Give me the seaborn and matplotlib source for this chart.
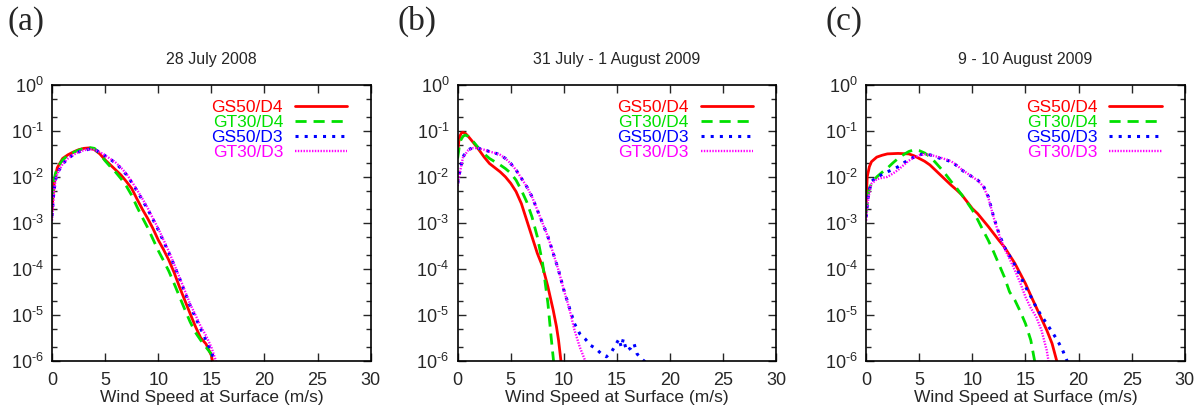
import numpy as np
import pandas as pd
import matplotlib
matplotlib.use("Agg")
import matplotlib.pyplot as plt
import matplotlib.ticker as mticker
import seaborn as sns

# series names and styles
names = ["GS50/D4", "GT30/D4", "GS50/D3", "GT30/D3"]
colors = ["#ff0000", "#00e000", "#0000ff", "#ff00ff"]
titles = ["28 July 2008", "31 July - 1 August 2009", "9 - 10 August 2009"]
panel_tags = ["(a)", "(b)", "(c)"]
y_decades = [1e-6, 1e-5, 1e-4, 1e-3, 1e-2, 1e-1, 1e0]

# ---- panel (a): wind speed (m/s) and log10(PDF) ----
a_x_gs50d4 = [0, 0.15, 0.3, 0.5, 1, 1.5, 2, 2.5, 3, 3.5, 4, 4.5, 5, 5.5, 6, 6.5, 7, 7.5, 8, 8.5,
              9, 9.5, 10, 10.5, 11, 11.5, 12, 12.5, 13, 13.5, 14, 14.5, 15, 15.15]
a_y_gs50d4 = [-2.72, -2.25, -2.0, -1.8, -1.6, -1.52, -1.46, -1.41, -1.38, -1.37, -1.41, -1.5, -1.63,
              -1.74, -1.85, -1.96, -2.1, -2.25, -2.48, -2.7, -2.9, -3.12, -3.37, -3.58, -3.81, -4.08,
              -4.39, -4.68, -4.97, -5.25, -5.5, -5.63, -5.88, -6.05]
a_x_gt30d4 = [0, 0.15, 0.3, 0.5, 1, 1.5, 2, 2.5, 3, 3.5, 4, 4.5, 5, 5.5, 6, 6.5, 7, 7.5, 8, 8.5,
              9, 9.5, 10, 10.5, 11, 11.5, 12, 12.5, 13, 13.5, 14, 14.5, 15, 15.25]
a_y_gt30d4 = [-2.5, -2.15, -1.95, -1.8, -1.63, -1.53, -1.47, -1.42, -1.38, -1.36, -1.38, -1.5, -1.65,
              -1.78, -1.9, -2.04, -2.2, -2.4, -2.65, -2.88, -3.1, -3.35, -3.6, -3.82, -4.05, -4.32,
              -4.6, -4.88, -5.15, -5.38, -5.55, -5.7, -5.85, -6.05]
a_x_gs50d3 = [0, 0.15, 0.3, 0.5, 1, 1.5, 2, 2.5, 3, 3.5, 4, 4.5, 5, 5.5, 6, 6.5, 7, 7.5, 8, 8.5,
              9, 9.5, 10, 10.5, 11, 11.5, 12, 12.5, 13, 13.5, 14, 14.5, 15, 15.4]
a_y_gs50d3 = [-2.85, -2.4, -2.1, -1.92, -1.72, -1.6, -1.52, -1.46, -1.42, -1.4, -1.41, -1.46, -1.54,
              -1.62, -1.7, -1.82, -1.95, -2.12, -2.3, -2.5, -2.7, -2.92, -3.15, -3.4, -3.65, -3.92,
              -4.2, -4.5, -4.8, -5.05, -5.3, -5.55, -5.8, -6.05]
a_x_gt30d3 = [0, 0.15, 0.3, 0.5, 1, 1.5, 2, 2.5, 3, 3.5, 4, 4.5, 5, 5.5, 6, 6.5, 7, 7.5, 8, 8.5,
              9, 9.5, 10, 10.5, 11, 11.5, 12, 12.5, 13, 13.5, 14, 14.5, 15, 15.5]
a_y_gt30d3 = [-2.95, -2.45, -2.12, -1.93, -1.72, -1.6, -1.52, -1.46, -1.42, -1.4, -1.41, -1.46, -1.53,
              -1.61, -1.69, -1.8, -1.93, -2.1, -2.28, -2.47, -2.67, -2.9, -3.12, -3.37, -3.62, -3.9,
              -4.18, -4.47, -4.76, -5.0, -5.25, -5.45, -5.7, -6.05]

# ---- panel (b) ----
b_x_gs50d4 = [0, 0.1, 0.2, 0.35, 0.5, 0.75, 1, 1.5, 2, 2.5, 3, 3.5, 4, 4.5, 5, 5.5, 6, 6.5, 7,
              7.5, 8, 8.5, 9, 9.3, 9.5, 9.75]
b_y_gs50d4 = [-1.49, -1.25, -1.12, -1.05, -1.03, -1.06, -1.12, -1.26, -1.41, -1.57, -1.71, -1.8,
              -1.89, -2.0, -2.14, -2.32, -2.58, -2.94, -3.3, -3.66, -3.95, -4.39, -4.9, -5.25, -5.55,
              -6.05]
b_x_gt30d4 = [0, 0.15, 0.3, 0.5, 0.7, 1, 1.5, 2, 2.5, 3, 3.5, 4, 4.5, 5, 5.5, 6, 6.5, 7, 7.5, 8,
              8.5, 8.8, 9.05]
b_y_gt30d4 = [-1.6, -1.35, -1.2, -1.12, -1.09, -1.12, -1.24, -1.38, -1.5, -1.6, -1.67, -1.74, -1.82,
              -1.92, -2.07, -2.29, -2.54, -2.87, -3.3, -3.88, -4.75, -5.48, -6.05]
b_x_gs50d3 = [0, 0.15, 0.3, 0.5, 1, 1.5, 2, 2.5, 3, 3.5, 4, 4.5, 5, 5.5, 6, 6.5, 7, 7.5, 8, 8.5,
              9, 9.5, 10, 10.5, 11, 11.5, 12, 12.5, 13, 13.5, 14, 14.5, 15, 15.2, 15.4, 15.6, 15.9,
              16.3, 16.6, 16.9, 17.3, 17.8]
b_y_gs50d3 = [-2.14, -1.95, -1.78, -1.56, -1.41, -1.36, -1.38, -1.41, -1.45, -1.48, -1.52, -1.6,
              -1.71, -1.85, -2.03, -2.21, -2.43, -2.72, -3.01, -3.3, -3.66, -4.03, -4.46, -4.83,
              -5.19, -5.41, -5.52, -5.66, -5.73, -5.84, -5.91, -5.8, -5.6, -5.52, -5.7, -5.52, -5.78,
              -5.72, -5.62, -5.85, -5.95, -6.05]
b_x_gt30d3 = [0, 0.15, 0.3, 0.5, 1, 1.5, 2, 2.5, 3, 3.5, 4, 4.5, 5, 5.5, 6, 6.5, 7, 7.5, 8, 8.5,
              9, 9.5, 10, 10.5, 11, 11.5, 12.1]
b_y_gt30d3 = [-2.2, -1.98, -1.8, -1.58, -1.42, -1.37, -1.38, -1.41, -1.45, -1.48, -1.52, -1.6,
              -1.71, -1.85, -2.03, -2.21, -2.43, -2.72, -3.01, -3.3, -3.66, -4.03, -4.46, -4.85,
              -5.33, -5.7, -6.05]

# ---- panel (c) ----
c_x_gs50d4 = [0, 0.1, 0.3, 0.5, 1, 1.5, 2, 3, 4, 4.5, 5, 5.5, 6, 6.5, 7, 7.5, 8, 8.5, 9, 9.5, 10,
              10.5, 11, 11.5, 12, 12.5, 13, 13.5, 14, 14.5, 15, 15.5, 16, 16.5, 17, 17.5, 18]
c_y_gs50d4 = [-2.58, -2.0, -1.78, -1.67, -1.57, -1.53, -1.5, -1.49, -1.5, -1.54, -1.6, -1.66, -1.74,
              -1.85, -1.96, -2.07, -2.18, -2.28, -2.39, -2.54, -2.69, -2.8, -2.94, -3.08, -3.23,
              -3.38, -3.52, -3.7, -3.88, -4.1, -4.32, -4.58, -4.83, -5.08, -5.33, -5.62, -6.05]
c_x_gt30d4 = [0, 0.25, 0.5, 1, 1.5, 2, 2.5, 3, 3.5, 4, 4.5, 5, 5.5, 6, 6.5, 7, 7.5, 8, 8.5, 9, 9.5,
              10, 10.5, 11, 11.5, 12, 12.5, 13, 13.5, 14, 14.5, 15, 15.5, 15.9]
c_y_gt30d4 = [-2.79, -2.3, -2.14, -2.0, -1.9, -1.81, -1.7, -1.6, -1.52, -1.45, -1.41, -1.43, -1.48,
              -1.56, -1.68, -1.81, -1.95, -2.1, -2.24, -2.39, -2.55, -2.72, -2.93, -3.16, -3.38,
              -3.63, -3.9, -4.17, -4.5, -4.68, -4.92, -5.19, -5.55, -6.05]
c_x_gs50d3 = [0, 0.15, 0.3, 0.5, 1, 1.5, 2, 2.5, 3, 3.5, 4, 4.5, 5, 5.5, 6, 6.5, 7, 7.5, 8, 8.5, 9,
              9.5, 10, 10.5, 11, 11.5, 12, 12.5, 13, 13.5, 14, 14.5, 15, 15.5, 16, 16.5, 17, 17.5,
              18, 18.5, 19]
c_y_gs50d3 = [-2.87, -2.5, -2.29, -2.1, -2.0, -1.95, -1.89, -1.84, -1.78, -1.7, -1.63, -1.57, -1.52,
              -1.5, -1.52, -1.56, -1.6, -1.63, -1.67, -1.75, -1.85, -1.93, -2.0, -2.07, -2.18, -2.43,
              -2.87, -3.23, -3.52, -3.72, -3.92, -4.15, -4.39, -4.6, -4.83, -5.02, -5.19, -5.37,
              -5.55, -5.77, -6.05]
c_x_gt30d3 = [0, 0.15, 0.3, 0.5, 1, 1.5, 2, 2.5, 3, 3.5, 4, 4.5, 5, 5.5, 6, 6.5, 7, 7.5, 8, 8.5, 9,
              9.5, 10, 10.5, 11, 11.5, 12, 12.5, 13, 13.5, 14, 14.5, 15, 15.5, 16, 16.5, 17, 17.2]
c_y_gt30d3 = [-2.95, -2.55, -2.35, -2.15, -2.05, -2.02, -2.0, -1.93, -1.85, -1.75, -1.65, -1.58,
              -1.53, -1.51, -1.52, -1.55, -1.58, -1.62, -1.66, -1.74, -1.84, -1.92, -2.0, -2.08,
              -2.2, -2.45, -2.88, -3.25, -3.55, -3.78, -4.03, -4.3, -4.61, -4.85, -5.04, -5.33,
              -5.77, -6.05]

panels = [
    [(a_x_gs50d4, a_y_gs50d4), (a_x_gt30d4, a_y_gt30d4), (a_x_gs50d3, a_y_gs50d3), (a_x_gt30d3, a_y_gt30d3)],
    [(b_x_gs50d4, b_y_gs50d4), (b_x_gt30d4, b_y_gt30d4), (b_x_gs50d3, b_y_gs50d3), (b_x_gt30d3, b_y_gt30d3)],
    [(c_x_gs50d4, c_y_gs50d4), (c_x_gt30d4, c_y_gt30d4), (c_x_gs50d3, c_y_gs50d3), (c_x_gt30d3, c_y_gt30d3)],
]

line_styles = ["-", (0, (4, 2.5)), (0, (1, 2)), (0, (0.6, 0.6))]
line_widths = [2.0, 2.0, 2.2, 1.7]

sns.set_style("ticks")
plt.rcParams["font.family"] = ["Liberation Sans", "DejaVu Sans"]
plt.rcParams["mathtext.fontset"] = "custom"
plt.rcParams["mathtext.rm"] = "Liberation Sans"
plt.rcParams["mathtext.it"] = "Liberation Sans"
plt.rcParams["mathtext.default"] = "regular"

fig = plt.figure(figsize=(11.98, 4.12), dpi=100)
lefts = [0.0434, 0.382, 0.723]
tag_x = [0.006, 0.332, 0.689]

def pow_fmt(v, pos):
    return r"$10^{\text{%d}}$" % int(round(np.log10(v)))

# minor ticks at 2x and 5x inside the shown decades
y_minor = [d * m for d in y_decades[:-1] for m in (2, 5)]

for i, left in enumerate(lefts):
    ax = fig.add_axes([left, 0.124, 0.266, 0.670])
    for j, (xs, ly) in enumerate(panels[i]):
        df = pd.DataFrame({"speed": xs, "pdf": 10.0 ** np.array(ly)})
        sns.lineplot(data=df, x="speed", y="pdf", ax=ax, color=colors[j], linestyle=line_styles[j],
                     lw=line_widths[j], label=names[j])
    ax.set_yscale("log")
    ax.set_xlim(0, 30)
    ax.set_ylim(1e-6, 1)
    ax.set_xticks(range(0, 31, 5))
    ax.yaxis.set_major_locator(mticker.FixedLocator(y_decades))
    ax.yaxis.set_minor_locator(mticker.FixedLocator(y_minor))
    ax.yaxis.set_minor_formatter(mticker.NullFormatter())
    ax.yaxis.set_major_formatter(mticker.FuncFormatter(pow_fmt))
    ax.tick_params(which="both", direction="in", top=True, right=True, labelsize=13)
    ax.tick_params(axis="x", pad=8)
    ax.tick_params(axis="y", pad=6)
    ax.tick_params(which="major", length=6, width=1)
    ax.tick_params(which="minor", length=3.5, width=1)
    for s in ax.spines.values():
        s.set_linewidth(1.2)
        s.set_color("black")
    ax.set_xlabel("Wind Speed at Surface (m/s)", fontsize=12.5, labelpad=0.5)
    ax.yaxis.label.set_visible(False)
    ax.set_title(titles[i], fontsize=11.5, pad=15)
    ax.legend(loc="upper right", bbox_to_anchor=(0.965, 0.99), frameon=False, markerfirst=False,
              labelcolor="linecolor", fontsize=12.5, handlelength=3.0, handletextpad=0.7,
              labelspacing=0.0, borderpad=0.2)
    fig.text(tag_x[i], 0.947, panel_tags[i], family=["Liberation Serif", "DejaVu Serif"],
             fontsize=24, va="center", ha="left")

fig.savefig("out.png", dpi=100)
